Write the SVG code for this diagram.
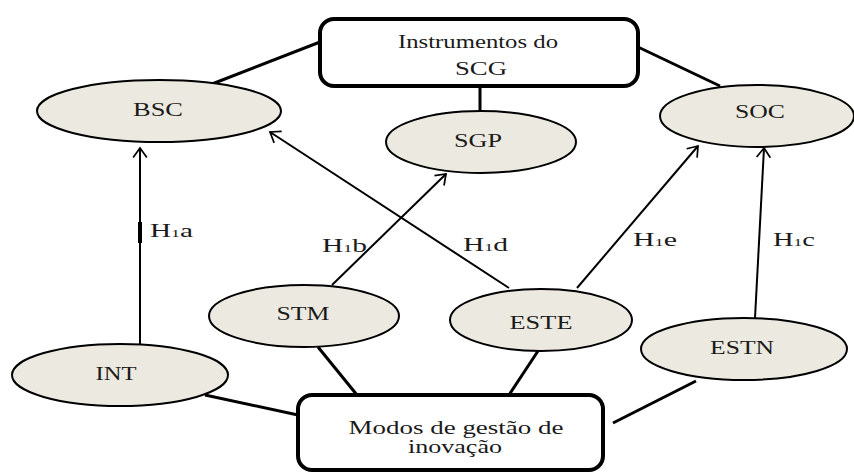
<svg xmlns="http://www.w3.org/2000/svg" width="854" height="474" viewBox="0 0 854 474">
<style>
.node ellipse{fill:#ECEAE0;stroke:#000;stroke-width:2}
.box rect{fill:#fff;stroke:#000;stroke-width:4}
text{font-family:'Liberation Serif','Times New Roman',serif;fill:#1a1a1a;text-anchor:middle}
.nl{font-size:18px}
.bl{font-size:18px}
.hl{font-size:18px;text-anchor:start}
.hl tspan.s{font-size:11px}
.arrow{stroke:#000;stroke-width:2;fill:none;marker-end:url(#ah)}
.link{stroke:#000;stroke-width:3;fill:none}
</style>
<defs>
<marker id="ah" markerUnits="userSpaceOnUse" markerWidth="24" markerHeight="24" viewBox="-14 -12 28 24" refX="0" refY="0" orient="auto">
<path d="M-11,-8 L0,0 L-11,8" fill="none" stroke="#000" stroke-width="2"/>
</marker>
</defs>
<rect width="854" height="474" fill="#fff"/>
<g id="connectors">
<line class="link" x1="212" y1="84" x2="320" y2="42"/>
<line class="link" x1="638" y1="47" x2="720" y2="86"/>
<line class="link" x1="480" y1="88" x2="480" y2="111"/>
<line class="link" x1="318" y1="347" x2="357" y2="395"/>
<line class="link" x1="538" y1="351" x2="509" y2="395"/>
<line class="link" x1="205" y1="395" x2="298" y2="415"/>
<line class="link" x1="696" y1="381" x2="613" y2="423"/>
<line class="arrow" x1="140" y1="344" x2="140" y2="148"/>
<line x1="140" y1="222" x2="140" y2="243" stroke="#000" stroke-width="4"/>
<line class="arrow" x1="332" y1="285" x2="446" y2="174"/>
<line class="arrow" x1="509" y1="288" x2="270" y2="132"/>
<line class="arrow" x1="577" y1="288" x2="698" y2="146"/>
<line class="arrow" x1="755" y1="318" x2="764" y2="148"/>
<text class="hl" x="150" y="237" textLength="43" lengthAdjust="spacingAndGlyphs">H<tspan class="s">1</tspan>a</text>
<text class="hl" x="322" y="252" textLength="45" lengthAdjust="spacingAndGlyphs">H<tspan class="s">1</tspan>b</text>
<text class="hl" x="463" y="251" textLength="45" lengthAdjust="spacingAndGlyphs">H<tspan class="s">1</tspan>d</text>
<text class="hl" x="633" y="246" textLength="44" lengthAdjust="spacingAndGlyphs">H<tspan class="s">1</tspan>e</text>
<text class="hl" x="773" y="246" textLength="42" lengthAdjust="spacingAndGlyphs">H<tspan class="s">1</tspan>c</text>
</g>
<g id="instrumentos" class="box">
<rect x="320" y="19" width="318" height="67" rx="14"/>
<text class="bl" x="478" y="48" textLength="160" lengthAdjust="spacingAndGlyphs">Instrumentos do</text>
<text class="bl" x="481" y="75" textLength="52" lengthAdjust="spacingAndGlyphs">SCG</text>
</g>
<g id="modos" class="box">
<rect x="298" y="395" width="305" height="75" rx="14"/>
<text class="bl" x="456" y="434" textLength="215" lengthAdjust="spacingAndGlyphs">Modos de gestão de</text>
<text class="bl" x="455" y="453" textLength="94" lengthAdjust="spacingAndGlyphs">inovação</text>
</g>
<g id="bsc" class="node">
<ellipse cx="159" cy="111" rx="122" ry="31"/>
<text class="nl" x="158" y="116" textLength="50" lengthAdjust="spacingAndGlyphs">BSC</text>
</g>
<g id="sgp" class="node">
<ellipse cx="481" cy="142" rx="95" ry="31"/>
<text class="nl" x="478" y="147" textLength="48" lengthAdjust="spacingAndGlyphs">SGP</text>
</g>
<g id="soc" class="node">
<ellipse cx="757" cy="116" rx="97" ry="31"/>
<text class="nl" x="760" y="118" textLength="50" lengthAdjust="spacingAndGlyphs">SOC</text>
</g>
<g id="stm" class="node">
<ellipse cx="304" cy="316" rx="95" ry="31"/>
<text class="nl" x="303" y="320" textLength="53" lengthAdjust="spacingAndGlyphs">STM</text>
</g>
<g id="este" class="node">
<ellipse cx="541" cy="320" rx="91" ry="31"/>
<text class="nl" x="541" y="329" textLength="63" lengthAdjust="spacingAndGlyphs">ESTE</text>
</g>
<g id="estn" class="node">
<ellipse cx="744" cy="349" rx="103" ry="31"/>
<text class="nl" x="742" y="354" textLength="64" lengthAdjust="spacingAndGlyphs">ESTN</text>
</g>
<g id="int" class="node">
<ellipse cx="120" cy="375" rx="108" ry="31"/>
<text class="nl" x="116" y="380" textLength="41" lengthAdjust="spacingAndGlyphs">INT</text>
</g>
</svg>
